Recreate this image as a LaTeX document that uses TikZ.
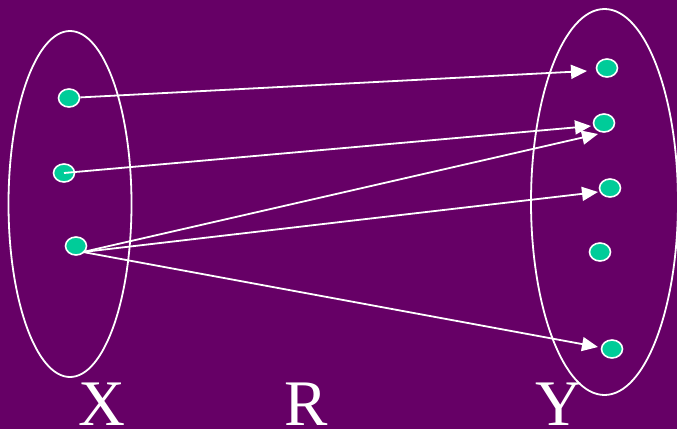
\documentclass[tikz,border=0pt]{standalone}
\usepackage{fontspec}
\setmainfont{Liberation Serif}
\usetikzlibrary{shapes.geometric,arrows.meta}
\definecolor{bgpurple}{HTML}{660066}
\definecolor{dotgreen}{HTML}{00CC99}
\begin{document}
\begin{tikzpicture}[x=1pt,y=-1pt,
  dotnode/.style={ellipse,draw=white,line width=1.6pt,fill=dotgreen,minimum width=21pt,minimum height=18pt,inner sep=0pt},
  setoval/.style={draw=white,line width=1.8pt},
  rel/.style={draw=white,line width=1.8pt,-{Triangle[length=16pt,width=14pt]}},
  lbl/.style={text=white,font=\fontsize{65}{65}\selectfont,anchor=base,inner sep=0pt}]
\fill[bgpurple] (0,0) rectangle (677,429);
\useasboundingbox (0,0) rectangle (677,429);
\draw[setoval] (70,204) ellipse [x radius=61.5, y radius=173];
\draw[setoval] (604.5,202) ellipse [x radius=73.5, y radius=193];
\node[dotnode] (l1) at (69,98) {};
\node[dotnode] (l2) at (64,173) {};
\node[dotnode] (l3) at (76,246) {};
\node[dotnode] (r1) at (607,68) {};
\node[dotnode] (r2) at (604,123) {};
\node[dotnode] (r3) at (610,188) {};
\node[dotnode] (r4) at (600,252) {};
\node[dotnode] (r5) at (612,349) {};
\coordinate (t1) at (587,71);
\coordinate (t2) at (591,126);
\coordinate (t3) at (598,134);
\coordinate (t4) at (598,192);
\coordinate (t5) at (598,347);
\draw[rel] (l1) -- (t1);
\draw[rel] (l2.center) -- (t2);
\coordinate (s3) at (83,252);
\draw[rel] (s3) -- (t3);
\draw[rel] (s3) -- (t4);
\draw[rel] (s3) -- (t5);
\node[lbl] (X) at (102,425) {X};
\node[lbl] (R) at (306,425) {R};
\node[lbl] (Y) at (559,425) {Y};
\end{tikzpicture}
\end{document}
